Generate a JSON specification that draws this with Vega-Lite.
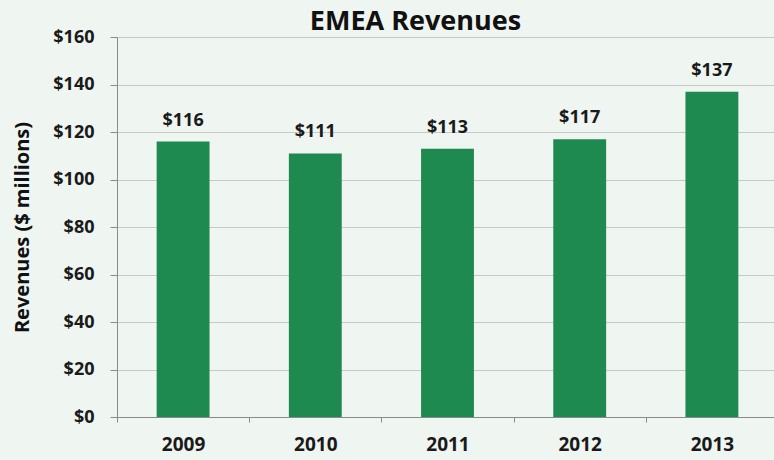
{
  "$schema": "https://vega.github.io/schema/vega-lite/v6.json",
  "autosize": {"type": "none"},
  "padding": {"left": 117, "top": 37, "right": 0, "bottom": 43},
  "width": 661,
  "height": 380,
  "background": "#eff5f1",
  "title": {
    "text": "EMEA Revenues",
    "font": "Open Sans",
    "fontWeight": "bold",
    "fontSize": 27,
    "color": "#111111",
    "anchor": "middle",
    "baseline": "alphabetic",
    "offset": -29,
    "dx": -32
  },
  "data": {
    "values": [
      {"year": "2009", "revenue": 116},
      {"year": "2010", "revenue": 111},
      {"year": "2011", "revenue": 113},
      {"year": "2012", "revenue": 117},
      {"year": "2013", "revenue": 137}
    ]
  },
  "config": {
    "view": {"stroke": null},
    "font": "Open Sans"
  },
  "encoding": {
    "x": {
      "field": "year",
      "type": "ordinal",
      "scale": {"paddingInner": 0, "paddingOuter": 0},
      "axis": {
        "title": null,
        "labelAngle": 0,
        "labelFont": "Open Sans",
        "labelFontWeight": "bold",
        "labelFontSize": 19,
        "labelColor": "#1a1a1a",
        "labelPadding": 13,
        "domainColor": "#8a8a8a",
        "tickColor": "#8a8a8a",
        "tickSize": 5,
        "tickBand": "extent",
        "grid": false
      }
    },
    "y": {
      "field": "revenue",
      "type": "quantitative",
      "scale": {"domain": [0, 160]},
      "axis": {
        "title": "Revenues ($ millions)",
        "titleFont": "Open Sans",
        "titleFontWeight": "bold",
        "titleFontSize": 20,
        "titleColor": "#111111",
        "titlePadding": 20,
        "values": [0, 20, 40, 60, 80, 100, 120, 140, 160],
        "labelExpr": "'$' + datum.value",
        "labelFont": "Open Sans",
        "labelFontWeight": "bold",
        "labelFontSize": 18,
        "labelColor": "#1a1a1a",
        "labelPadding": 16,
        "domainColor": "#8a8a8a",
        "tickColor": "#8a8a8a",
        "tickSize": 7,
        "gridColor": "#c8c8c8",
        "gridWidth": 1
      }
    }
  },
  "layer": [
    {
      "mark": {"type": "bar", "color": "#1f8a50", "width": {"band": 0.4}}
    },
    {
      "mark": {
        "type": "text",
        "baseline": "bottom",
        "dy": -12,
        "font": "Open Sans",
        "fontWeight": "bold",
        "fontSize": 18,
        "color": "#1a1a1a"
      },
      "encoding": {
        "text": {"field": "revenue", "type": "quantitative", "format": "$d"}
      }
    }
  ]
}
